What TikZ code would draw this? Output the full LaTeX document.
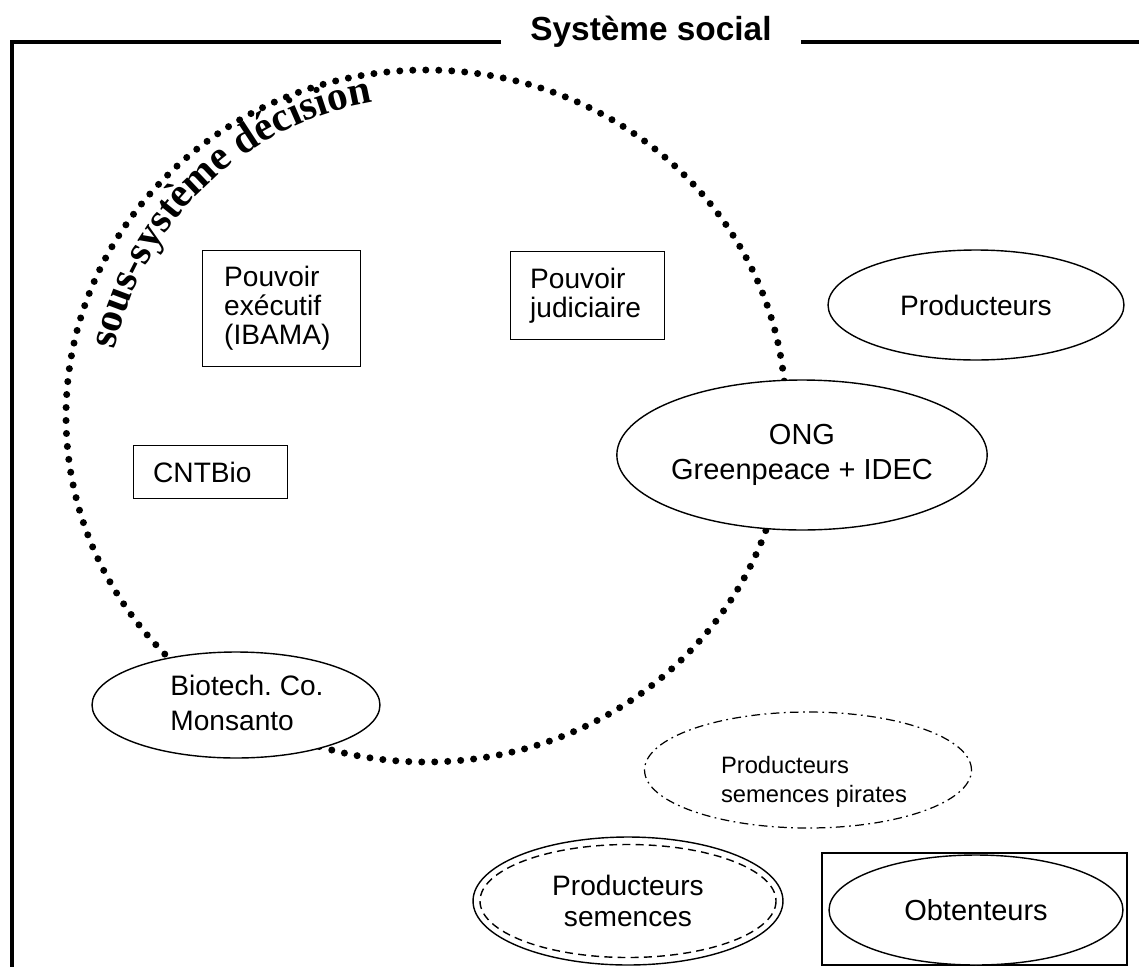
\documentclass[tikz,border=0pt]{standalone}
\usepackage{fontspec}
\setmainfont{Liberation Sans}
\newfontfamily\seriffont{Liberation Serif}
\usetikzlibrary{shapes.geometric,decorations.text}

\tikzset{
  cadre/.style={line width=0.08cm},
  pointille/.style={line width=0.14cm, line cap=round, dash pattern=on 0pt off 0.26cm},
  boite/.style={draw, line width=0.8pt, anchor=north west, align=left, inner xsep=0.39cm,
    text width=2.3cm, font=\fontsize{16}{16.5}\selectfont},
  ovale/.style={ellipse, draw, line width=0.8pt, fill=white, inner sep=0pt, align=center,
    font=\fontsize{16}{17}\selectfont},
}

\begin{document}
\begin{tikzpicture}[x=0.02cm, y=-0.02cm]
	\useasboundingbox (0,0) rectangle (1139,967);
	% systeme social
	\node[font=\fontsize{19}{19}\selectfont\bfseries, inner xsep=0.58cm, anchor=base] (titre) at (651,40) {Système social};
	\draw[cadre] (titre.west |- 0,42) -- (12,42) -- (12,967);
	\draw[cadre] (titre.east |- 0,42) -- (1139,42);
	% sous-systeme decision
	\draw[pointille] (426,416) ellipse (360 and 346);
	\path[decorate, decoration={text along path, text align={left indent=0pt},
	    text={|\seriffont\bfseries\fontsize{23.5}{23.5}\selectfont|sous-système décision}}]
	  (426,416) ++(192:318 and 318) arc (192:272:318 and 318);
	% pouvoirs
	\node[boite, inner xsep=0.43cm, minimum height=2.32cm] (executif) at (202,250) {Pouvoir\\exécutif\\(IBAMA)};
	\node[boite, minimum height=1.76cm] (judiciaire) at (510,251) {Pouvoir\\judiciaire};
	\node[boite, minimum height=1.06cm] (cntbio) at (133,445) {CNTBio};
	% acteurs
	\node[ovale, minimum width=5.92cm, minimum height=2.2cm] (producteurs) at (976,305) {Producteurs};
	\node[ovale, minimum width=7.24cm, minimum height=3cm, font=\fontsize{16.5}{19.5}\selectfont] (ong) at (802,455) {ONG\\Greenpeace + IDEC};
	\node[ovale, minimum width=5.76cm, minimum height=2.12cm] (biotech) at (236,705) {};
	\node[align=left, font=\fontsize{16}{19.5}\selectfont] (biotechtxt) at (247,703) {Biotech.\ Co.\\Monsanto};
	% semences
	\node[ovale, line width=0.7pt, dash pattern=on 5pt off 2.5pt on 1pt off 2.5pt, minimum width=6.54cm, minimum height=2.32cm] (pirates) at (808,770) {};
	\node[align=left, font=\fontsize{13.5}{16.5}\selectfont] (piratestxt) at (814,782) {Producteurs\\semences pirates};
	\node[ovale, minimum width=6.2cm, minimum height=2.56cm, font=\fontsize{16}{17.6}\selectfont] (semences) at (628,901) {Producteurs\\semences};
	\draw[line width=0.8pt, dash pattern=on 4.5pt off 3pt] (semences.center) ellipse (148 and 56.5);
	\draw[line width=0.8pt] (822,853) rectangle (1127,965);
	\node[ovale, minimum width=5.88cm, minimum height=2.2cm, font=\fontsize{16.5}{17}\selectfont] (obtenteurs) at (976,910) {Obtenteurs};
\end{tikzpicture}
\end{document}
